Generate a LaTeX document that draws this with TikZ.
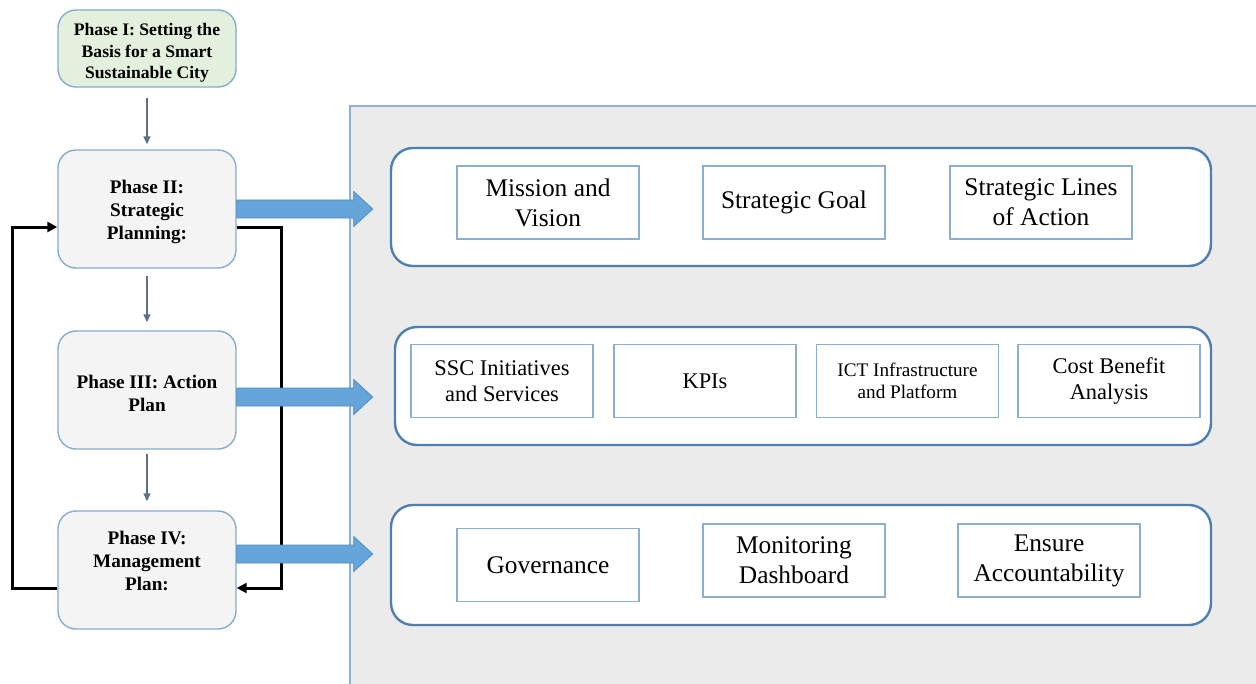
\documentclass[tikz,border=0pt]{standalone}
\usepackage{fontspec}
\setmainfont{Liberation Serif}
\usetikzlibrary{arrows.meta,calc}
\definecolor{phaseedge}{HTML}{86ACCF}
\definecolor{phasefill}{HTML}{F4F4F4}
\definecolor{greenfill}{HTML}{E3F0DD}
\definecolor{panelfill}{HTML}{EBEBEB}
\definecolor{paneledge}{HTML}{8FB0CF}
\definecolor{rowedge}{HTML}{4D7FAF}
\definecolor{itemedge}{HTML}{8EAED0}
\definecolor{fatblue}{HTML}{65A5DA}
\definecolor{fatedge}{HTML}{4F8DC6}
\definecolor{thinarrow}{HTML}{5D7189}
\tikzset{
  phasebox/.style={draw=phaseedge, line width=0.7pt, fill=phasefill, rounded corners=9pt,
    minimum width=89pt, minimum height=59pt, align=center, inner sep=2pt,
    font=\fontsize{9.6pt}{11.4pt}\selectfont\bfseries},
  rowbox/.style={draw=rowedge, line width=1.2pt, fill=white, rounded corners=11pt,
    minimum height=59pt},
  itembox/.style={draw=itemedge, line width=0.7pt, fill=white, minimum width=91pt,
    minimum height=36.5pt, align=center, inner sep=1pt,
    font=\fontsize{12.7pt}{15pt}\selectfont},
  smallitem/.style={font=\fontsize{11.2pt}{13pt}\selectfont},
  thin/.style={draw=thinarrow, line width=0.75pt, -{Triangle[length=4pt,width=3.5pt]}},
  fb/.style={draw=black, line width=1.5pt, -{Triangle[length=5pt,width=5pt]}},
  fat/.style={fill=fatblue, draw=fatedge, line width=0.4pt},
}
\begin{document}
\begin{tikzpicture}[x=0.5pt,y=-0.5pt]
\useasboundingbox (0,0) rectangle (1256,684);
\fill[white] (0,0) rectangle (1256,684);
% gray panel
\fill[panelfill] (350,106) rectangle (1256,684);
\draw[paneledge, line width=0.8pt] (350,684) -- (350,106) -- (1256,106);

% phases
\node[phasebox, fill=greenfill, minimum height=38.5pt, font=\fontsize{8.8pt}{10.6pt}\selectfont\bfseries] (p1) at (147,48.5)
  {\rule{0pt}{10.5pt}Phase I: Setting the\\Basis for a Smart\\Sustainable City};
\node[phasebox] (p2) at (147,209) {\rule{0pt}{9.8pt}Phase II:\\Strategic\\Planning:};
\node[phasebox] (p3) at (147,390) {\rule{0pt}{9.8pt}Phase III: Action\\Plan};
\node[phasebox] (p4) at (147,570) {Phase IV:\\Management\\Plan:\\[-2.5pt]};

% thin arrows
\draw[thin] ($(p1.south)+(0,10)$) -- ($(p2.north)+(0,-5)$);
\draw[thin] ($(p2.south)+(0,7)$) -- ($(p3.north)+(0,-8)$);
\draw[thin] ($(p3.south)+(0,4)$) -- ($(p4.north)+(0,-9)$);

% feedback loops
\draw[fb] ($(p4.west)+(0,18)$) -- ++(-45,0) |- ($(p2.west)+(0,18)$);
\draw[fb] ($(p2.east)+(0,18)$) -- ++(45,0) |- ($(p4.east)+(0,18)$);

% fat arrows
\draw[fat] ($(p2.east)+(0,-9)$) -- ++(117,0) -- ++(0,-8.5) -- ++(19,17.5) -- ++(-19,17.5) -- ++(0,-8.5) -- ++(-117,0) -- cycle;
\draw[fat] ($(p3.east)+(0,-2)$) -- ++(117,0) -- ++(0,-8.5) -- ++(19,17.5) -- ++(-19,17.5) -- ++(0,-8.5) -- ++(-117,0) -- cycle;
\draw[fat] ($(p4.east)+(0,-25)$) -- ++(117,0) -- ++(0,-8.5) -- ++(19,17.5) -- ++(-19,17.5) -- ++(0,-8.5) -- ++(-117,0) -- cycle;

% rows
\node[rowbox, minimum width=410pt] (r1) at (801,207) {};
\node[rowbox, minimum width=408pt] (r2) at (803,386) {};
\node[rowbox, minimum width=410pt, minimum height=60pt] (r3) at (801,565) {};

% items row 1
\node[itembox] (mv) at (548,202.5) {Mission and\\Vision};
\node[itembox] (sg) at (794,202.5) {Strategic Goal};
\node[itembox] (sl) at (1041,202.5) {Strategic Lines\\of Action};
% items row 2
\node[itembox, smallitem] (ssc) at (502,381) {SSC Initiatives\\and Services};
\node[itembox, smallitem] (kpi) at (705,381) {KPIs};
\node[itembox, font=\fontsize{9.6pt}{11pt}\selectfont] (ict) at (907.5,381) {ICT Infrastructure\\and Platform};
\node[itembox, smallitem] (cba) at (1109,381) {Cost Benefit\\Analysis};
% items row 3
\node[itembox] (gov) at (548,565) {Governance};
\node[itembox] (mon) at (794,560.5) {Monitoring\\Dashboard};
\node[itembox] (acc) at (1049,560.5) {Ensure\\Accountability};
\end{tikzpicture}
\end{document}
